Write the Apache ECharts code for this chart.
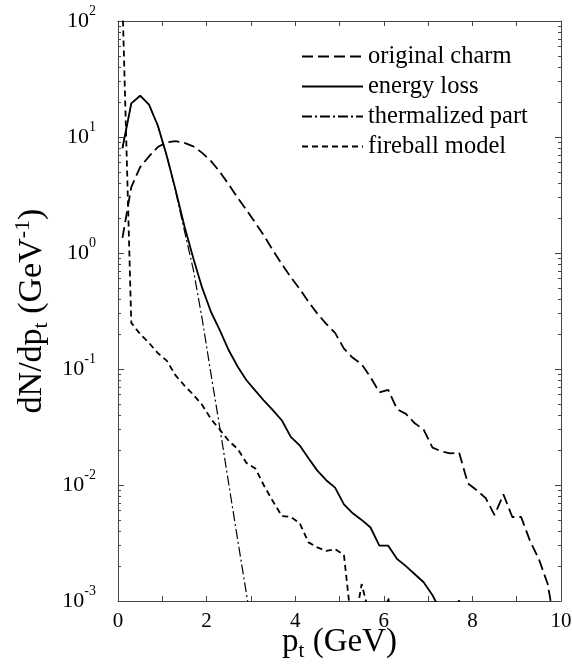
<!DOCTYPE html>
<html>
<head>
<meta charset="utf-8">
<script src="https://cdn.jsdelivr.net/npm/echarts@6/dist/echarts.min.js"></script>
<style>
  html, body { margin: 0; padding: 0; background: #fff; }
  #chart { width: 572px; height: 666px; }
</style>
</head>
<body>
<div id="chart"></div>
<script>
// Transverse momentum bin centres (GeV), 0.2 GeV bins
const ptBins = [0.1, 0.3, 0.5, 0.7, 0.9, 1.1, 1.3, 1.5, 1.7, 1.9,
                2.1, 2.3, 2.5, 2.7, 2.9, 3.1, 3.3, 3.5, 3.7, 3.9,
                4.1, 4.3, 4.5, 4.7, 4.9, 5.1, 5.3, 5.5, 5.7, 5.9,
                6.1, 6.3, 6.5, 6.7, 6.9, 7.1, 7.3, 7.5, 7.7, 7.9,
                8.1, 8.3, 8.5, 8.7, 8.9, 9.1, 9.3, 9.5, 9.7, 9.9];

// dN/dpt (1/GeV) for each spectrum, one value per bin from the start of ptBins
const originalCharm = [1.35, 3.7, 5.5, 6.8, 8.2, 9.0, 9.2, 8.9, 8.3, 7.3,
                       6.2, 5.0, 3.9, 3.0, 2.35, 1.82, 1.4, 1.05, 0.8, 0.62,
                       0.49, 0.38, 0.30, 0.245, 0.205, 0.15, 0.125, 0.11, 0.085, 0.063,
                       0.066, 0.045, 0.041, 0.034, 0.030, 0.021, 0.0195, 0.0187, 0.019, 0.0103,
                       0.0090, 0.0077, 0.0055, 0.0083, 0.0053, 0.0053, 0.0033, 0.0023, 0.0014, 0.0005];

const energyLoss = [8.0, 19.5, 22.7, 19, 12.5, 6.9, 3.5, 1.7, 0.9, 0.5,
                    0.31, 0.215, 0.145, 0.105, 0.08, 0.065, 0.053, 0.044, 0.036, 0.026,
                    0.022, 0.017, 0.0133, 0.011, 0.0095, 0.0068, 0.0057, 0.0050, 0.0043, 0.0030,
                    0.0030, 0.0023, 0.0020, 0.0017, 0.00145, 0.00112, 0.0008];

const thermalizedPart = [8.0, 19.5, 22.7, 19, 12.5, 6.9, 3.4, 1.55, 0.72, 0.27,
                         0.09, 0.031, 0.0102, 0.0034, 0.00115, 0.00038];

const fireballModel = [150, 0.25, 0.2, 0.168, 0.137, 0.118, 0.088, 0.072, 0.06, 0.049,
                       0.037, 0.030, 0.024, 0.0205, 0.0155, 0.0139, 0.0098, 0.0072, 0.0054, 0.0053,
                       0.0047, 0.0032, 0.0029, 0.0027, 0.0028, 0.0025, 0.0005, 0.0014, 0.0007, 0.0003,
                       0.00108, 0.0003, 0.0002, 0.0002, 0.0002, 0.0002, 0.0002, 0.0003, 0.00105, 0.0003];

const seriesNames = ['original charm', 'energy loss', 'thermalized part', 'fireball model'];

// Axis ticks
const decadeTicks = [0.001, 0.01, 0.1, 1, 10, 100];
const minorFactors = [2, 3, 4, 5, 6, 7, 8, 9];

const FONT = '"Liberation Serif", "Times New Roman", serif';
const AXIS_COLOR = '#444';

const minorTicks = [];
decadeTicks.slice(0, -1).forEach(d => minorFactors.forEach(f => minorTicks.push(+(d * f).toPrecision(3))));

function pairs(values) {
  return values.map((v, i) => [ptBins[i], v]);
}

function yAxisDef(position, minor, withLabels) {
  return {
    type: 'log',
    logBase: 10,
    min: 0.001,
    max: 100,
    position: position,
    axisLine: { show: !minor, lineStyle: { color: AXIS_COLOR, width: 1 } },
    splitLine: { show: false },
    axisTick: {
      show: true,
      inside: true,
      length: minor ? 3 : 6,
      customValues: minor ? minorTicks : decadeTicks,
      lineStyle: { color: AXIS_COLOR, width: 1 }
    },
    axisLabel: withLabels ? {
      show: true,
      customValues: decadeTicks,
      margin: 22,
      fontFamily: FONT,
      color: '#000',
      formatter: function (v) {
        const e = Math.round(Math.log10(v));
        return '{b|10}{e|' + (e < 0 ? '-' + (-e) : e) + '}';
      },
      rich: {
        b: { fontSize: 22, fontFamily: FONT, color: '#000', lineHeight: 22, padding: [3, 0, 3, 0] },
        e: { fontSize: 14, fontFamily: FONT, color: '#000', lineHeight: 14, verticalAlign: 'bottom', padding: [0, 0, 14, 0] }
      }
    } : { show: false },
    name: withLabels ? '{a|dN/dp}{s|t}{a| (GeV}{u|-1}{a|)}' : '',
    nameLocation: 'middle',
    nameRotate: 90,
    nameGap: 66,
    nameMoveOverlap: false,
    nameTextStyle: {
      fontFamily: FONT,
      color: '#000',
      rich: {
        a: { fontSize: 34, fontFamily: FONT, color: '#000', lineHeight: 40 },
        s: { fontSize: 22, fontFamily: FONT, color: '#000', lineHeight: 22, verticalAlign: 'bottom', padding: [14, 0, 0, 0] },
        u: { fontSize: 22, fontFamily: FONT, color: '#000', lineHeight: 22, verticalAlign: 'top' }
      }
    }
  };
}

function xAxisDef(position, withLabels) {
  return {
    type: 'value',
    min: 0,
    max: 10,
    interval: 1,
    position: position,
    axisLine: { show: true, onZero: false, lineStyle: { color: AXIS_COLOR, width: 1 } },
    splitLine: { show: false },
    axisTick: { show: true, inside: true, length: 5, lineStyle: { color: AXIS_COLOR, width: 1 } },
    axisLabel: withLabels ? {
      show: true,
      margin: 10,
      fontSize: 21,
      fontFamily: FONT,
      color: '#000',
      formatter: v => (v % 2 === 0 ? String(v) : '')
    } : { show: false },
    name: withLabels ? '{a|p}{s|t}{a| (GeV)}' : '',
    nameLocation: 'middle',
    nameGap: 21,
    nameMoveOverlap: false,
    nameTextStyle: {
      fontFamily: FONT,
      color: '#000',
      rich: {
        a: { fontSize: 33, fontFamily: FONT, color: '#000', lineHeight: 40 },
        s: { fontSize: 21, fontFamily: FONT, color: '#000', lineHeight: 21, verticalAlign: 'bottom', padding: [14, 0, 0, 0] }
      }
    }
  };
}

const lineSeries = (name, values, width, dash) => ({
  name: name,
  type: 'line',
  xAxisIndex: 0,
  yAxisIndex: 0,
  data: pairs(values),
  symbol: 'none',
  showSymbol: false,
  clip: true,
  smooth: false,
  lineStyle: { color: '#000', width: width, type: dash },
  itemStyle: { color: '#000' },
  emphasis: { disabled: true }
});

const chart = echarts.init(document.getElementById('chart'), null, { renderer: 'canvas' });

chart.setOption({
  animation: false,
  backgroundColor: '#fff',
  grid: { left: 118, right: 11, top: 21, bottom: 65, containLabel: false, outerBoundsMode: 'none' },
  xAxis: [xAxisDef('bottom', true), xAxisDef('top', false)],
  yAxis: [
    yAxisDef('left', false, true),
    yAxisDef('left', true, false),
    yAxisDef('right', false, false),
    yAxisDef('right', true, false)
  ],
  legend: {
    left: 296,
    top: 39,
    orient: 'vertical',
    itemWidth: 61,
    itemHeight: 14,
    itemGap: 5,
    selectedMode: false,
    data: seriesNames,
    itemStyle: { opacity: 0 },
    textStyle: { fontSize: 24.5, fontFamily: FONT, color: '#000', lineHeight: 24 }
  },
  series: [
    lineSeries(seriesNames[0], originalCharm, 1.8, [11, 5]),
    lineSeries(seriesNames[1], energyLoss, 1.8, 'solid'),
    lineSeries(seriesNames[2], thermalizedPart, 1.2, [10, 3, 2, 3]),
    lineSeries(seriesNames[3], fireballModel, 1.8, [6, 4])
  ]
});
</script>
</body>
</html>
